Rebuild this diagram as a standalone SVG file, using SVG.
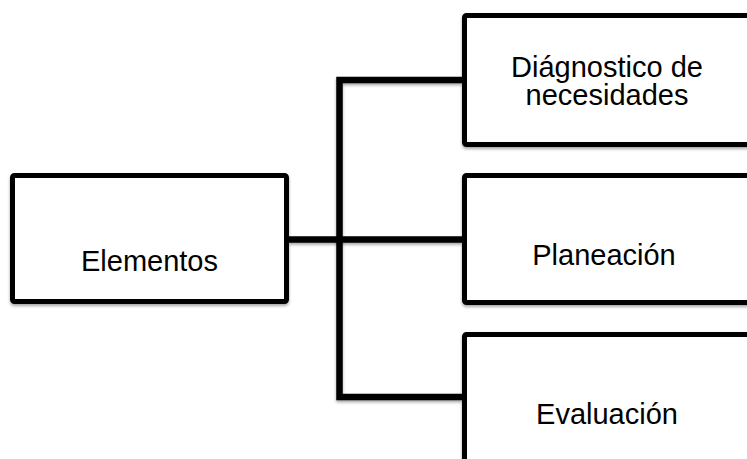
<svg xmlns="http://www.w3.org/2000/svg" width="747" height="459" viewBox="0 0 747 459">
<style>
.box{fill:#fff;stroke:#000;stroke-width:5;filter:url(#sh)}
.lbl{font-family:"Liberation Sans",Arial,sans-serif;font-size:29px;fill:#000;text-anchor:middle}
.conn{fill:none;stroke:#000;stroke-width:6.5;stroke-linejoin:miter;filter:url(#sh)}
</style>
<defs>
<filter id="sh" filterUnits="userSpaceOnUse" x="0" y="0" width="747" height="459">
<feDropShadow dx="0" dy="2" stdDeviation="1.5" flood-color="#000" flood-opacity="0.35"/>
</filter>
</defs>
<rect width="747" height="459" fill="#fff"/>
<g id="connectors">
<path class="conn" d="M289 239.5 H462"/>
<path class="conn" d="M462 80 H339.5 V397 H462"/>
</g>
<g id="node-elementos">
<rect class="box" x="12.5" y="175.5" width="274" height="126" rx="2"/>
<text class="lbl" x="149.5" y="271">Elementos</text>
</g>
<g id="node-diagnostico">
<rect class="box" x="464.5" y="15.5" width="290" height="129" rx="2"/>
<text class="lbl" x="607" y="77">Diágnostico de</text>
<text class="lbl" x="607" y="105">necesidades</text>
</g>
<g id="node-planeacion">
<rect class="box" x="464.5" y="175.5" width="290" height="127" rx="2"/>
<text class="lbl" x="604" y="265">Planeación</text>
</g>
<g id="node-evaluacion">
<rect class="box" x="464.5" y="334.5" width="290" height="140" rx="2"/>
<text class="lbl" x="607" y="424">Evaluación</text>
</g>
</svg>
